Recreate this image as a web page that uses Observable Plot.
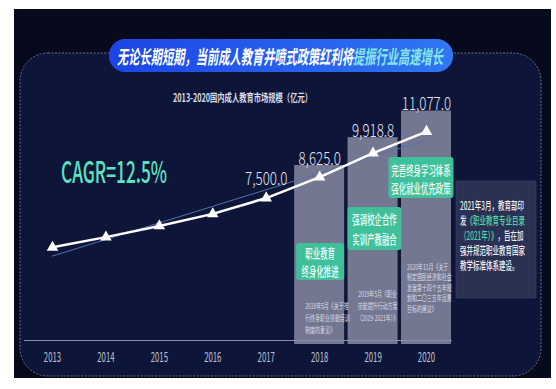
<!DOCTYPE html>
<html><head><meta charset="utf-8">
<script src="https://cdn.jsdelivr.net/npm/d3@7"></script>
<script src="https://cdn.jsdelivr.net/npm/@observablehq/plot@0.6"></script>
<style>
html,body{margin:0;padding:0;background:#fff;}
#chart{width:556px;height:389px;position:relative;}
</style></head><body><div id="chart"></div>
<script>
// ---- data ----
const years = [2013, 2014, 2015, 2016, 2017, 2018, 2019, 2020];
const marketSize = [4850, 5400, 6000, 6650, 7500, 8625, 9918.8, 11077];
const labeledYears = [2017, 2018, 2019, 2020];
const labelTexts = ["7,500.0", "8,625.0", "9,918.8", "11,077.0"];
const panelYears = [2018, 2019, 2020];
const panelTops = [9250, 10750, 12180];
const policyHeads = [["职业教育", "终身化推进"], ["强调校企合作", "实训产教融合"], ["完善终身学习体系", "强化就业优先政策"]];
const policyDocs = [
  ["2018年5月《关于推", "行终身职业技能培训", "制度的意见》"],
  ["2019年5月《职业", "技能提升行动方案", "（2019-2021年）》"],
  ["2020年11月《关于", "制定国民经济和社会", "发展第十四个五年规", "划和二〇三五年远景", "目标的建议》"]
];
const titleMain = "无论长期短期，当前成人教育井喷式政策红利将";
const titleHighlight = "提振行业高速增长";
const subtitle = "2013-2020国内成人教育市场规模（亿元）";
const cagrText = "CAGR=12.5%";
const noteLines = [
  [["2021年3月，教育部印", 0]],
  [["发", 0], ["《职业教育专业目录", 1]],
  [["（2021年）》", 1], ["，旨在加", 0]],
  [["强并规范职业教育国家", 0]],
  [["教学标准体系建设。", 0]]
];

const data = years.map((year, i) => ({year, value: marketSize[i]}));
const panels = panelYears.map((year, i) => ({year, top: panelTops[i]}));
const labels = labeledYears.map((year, i) => {
  const pi = panelYears.indexOf(year);
  return {year, text: labelTexts[i], onPanel: pi >= 0,
          anchor: pi >= 0 ? panelTops[pi] : marketSize[years.indexOf(year)]};
});

const FONT = '"Noto Sans CJK SC","Noto Sans",sans-serif';

const plot = Plot.plot({
  width: 556, height: 389,
  marginLeft: 24, marginRight: 104, marginTop: 0, marginBottom: 49,
  style: {background: "transparent", fontFamily: FONT, overflow: "visible"},
  x: {type: "linear", domain: [2012.5, 2020.5], range: [25.3, 452.7], label: null},
  y: {domain: [0, 12500], range: [337, 104.6], axis: null},
  marks: [
    Plot.rect(panels, {x1: d => d.year - 0.468, x2: d => d.year + 0.468, y1: 0, y2: "top",
      fill: "#8e90a6", fillOpacity: 0.8, insetBottom: -7}),
    Plot.ruleY([0], {dy: 3, stroke: "#8790b4", strokeWidth: 1.2}),
    Plot.linearRegressionY(data, {x: "year", y: "value", stroke: "#5670ad", strokeWidth: 1, ci: 0}),
    Plot.line(data, {x: "year", y: "value", stroke: "#ffffff", strokeWidth: 2.5}),
    Plot.dot(data, {x: "year", y: "value", symbol: "triangle", fill: "#ffffff", r: 4.3}),
    Plot.text(labels.filter(d => d.onPanel), {x: "year", y: "anchor", text: "text", lineAnchor: "bottom",
      dy: -1, fontSize: 18, fontWeight: 300, fill: "#e6e8f0"}),
    Plot.text(labels.filter(d => !d.onPanel), {x: "year", y: "anchor", text: "text", lineAnchor: "bottom",
      dy: -13, fontSize: 18, fontWeight: 300, fill: "#e6e8f0"}),
    Plot.axisX({ticks: years, tickFormat: d => String(d), tickSize: 0, tickPadding: 12, label: null,
      fontSize: 13, fill: "#bcc1d4", color: "#bcc1d4"})
  ]
});

document.getElementById("chart").appendChild(plot);
const svg = d3.select(plot);
const xs = plot.scale("x");

function condense(node, f) {
  const len = node.getComputedTextLength();
  node.setAttribute("textLength", len * f);
  node.setAttribute("lengthAdjust", "spacingAndGlyphs");
}
svg.selectAll('g[aria-label="text"] text').each(function() { condense(this, 0.74); });
svg.selectAll('g[aria-label="x-axis tick label"] text').each(function() { condense(this, 0.6); });

// ---- background ----
const bg = svg.insert("g", ":first-child");
bg.append("rect").attr("x", 14).attr("y", 9).attr("width", 537).attr("height", 369).attr("fill", "#060a1c");
bg.append("rect").attr("x", 20).attr("y", 53).attr("width", 521).attr("height", 323).attr("rx", 28)
  .attr("fill", "#0d1638").attr("stroke", "#8088ab").attr("stroke-width", 0.8).attr("stroke-dasharray", "2,1.5");

// ---- text helper ----
const fg = svg.append("g").attr("font-family", FONT).attr("text-anchor", "start");
function drawLine(g, x, y, segments, o) {
  const nodes = segments.map(([t, c]) => g.append("text").text(t).attr("y", y)
    .attr("text-anchor", "start")
    .attr("dominant-baseline", "central").attr("font-size", o.size).attr("font-weight", o.weight || 400)
    .attr("font-style", o.italic ? "italic" : null).attr("fill", c).node());
  const lens = nodes.map(n => n.getComputedTextLength());
  const total = d3.sum(lens);
  const f = o.width ? o.width / total : o.factor;
  let cx = o.anchor === "middle" ? x - total * f / 2 : x;
  nodes.forEach((n, i) => {
    n.setAttribute("x", cx);
    n.setAttribute("textLength", lens[i] * f);
    n.setAttribute("lengthAdjust", "spacingAndGlyphs");
    cx += lens[i] * f;
  });
}

// title pill
const defs = svg.append("defs");
const grad = defs.append("linearGradient").attr("id", "pill").attr("x1", 0).attr("x2", 1);
grad.append("stop").attr("offset", 0).attr("stop-color", "#1c45e4");
grad.append("stop").attr("offset", 1).attr("stop-color", "#3077f3");
fg.append("rect").attr("x", 109).attr("y", 39).attr("width", 344).attr("height", 33).attr("rx", 16)
  .attr("fill", "url(#pill)");
drawLine(fg, 117, 55, [[titleMain, "#ffffff"], [titleHighlight, "#86e6e6"]],
  {size: 19, weight: 700, italic: true, width: 326});
drawLine(fg, 242.5, 97, [[subtitle, "#dadde8"]], {size: 11, weight: 700, width: 139, anchor: "middle"});
drawLine(fg, 61, 170, [[cagrText, "#5ee3c1"]], {size: 30, weight: 500, width: 106});

// policy boxes
const boxes = [
  {dx: 1, w: 48, top: 243, h: 37, lines: [252, 270]},
  {dx: 2, w: 54, top: 207, h: 43, lines: [218, 238]},
  {dx: -5, w: 65, top: 157, h: 41, lines: [169, 187]}
];
boxes.forEach((b, i) => {
  const cx = xs.apply(panelYears[i]) + b.dx;
  fg.append("rect").attr("x", cx - b.w / 2).attr("y", b.top).attr("width", b.w).attr("height", b.h)
    .attr("rx", 3).attr("fill", "#40c09a");
  policyHeads[i].forEach((t, j) => drawLine(fg, cx, b.lines[j], [[t, "#effdf7"]],
    {size: 13, weight: 500, factor: 0.57, anchor: "middle"}));
});

// policy documents
const docs = [
  {dx: -14, y0: 305, step: 12, anchor: "start"},
  {dx: 5, y0: 293, step: 12, anchor: "middle"},
  {dx: -19, y0: 266, step: 10.5, anchor: "start"}
];
docs.forEach((d, i) => {
  const x = xs.apply(panelYears[i]) + d.dx;
  policyDocs[i].forEach((t, j) => drawLine(fg, x, d.y0 + j * d.step, [[t, "#dcdee8"]],
    {size: 8, weight: 400, factor: 0.62, anchor: d.anchor}));
});

// note box
fg.append("rect").attr("x", 456).attr("y", 181).attr("width", 80).attr("height", 117)
  .attr("fill", "#2a3152").attr("stroke", "#3a4266").attr("stroke-width", 0.6);
const noteColors = ["#eef0f5", "#4fd6ad"];
noteLines.forEach((segs, j) => drawLine(fg, 460, 205 + j * 15,
  segs.map(([t, c]) => [t, noteColors[c]]), {size: 11, weight: 500, factor: 0.59}));
</script>
</body></html>
